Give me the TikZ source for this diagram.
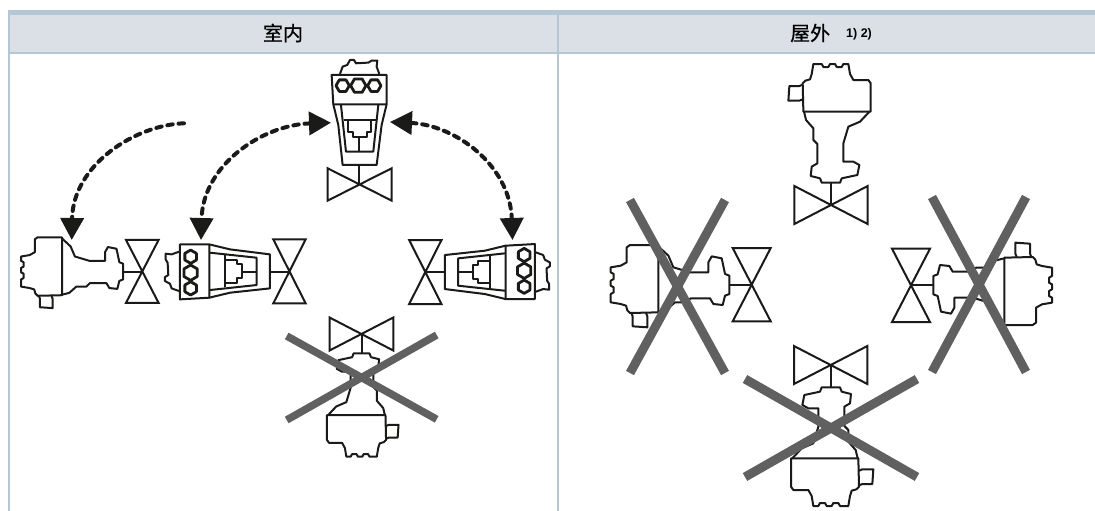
\documentclass[tikz,border=0pt]{standalone}
\usepackage{fontspec}
\setmainfont{Liberation Sans}
\newfontfamily\cjk[FakeBold=0.6]{Noto Sans CJK SC}
\usetikzlibrary{arrows.meta}
\definecolor{headfill}{HTML}{DAE0E5}
\definecolor{rulecol}{HTML}{B5C6D5}
\definecolor{inkcol}{HTML}{1A1A18}
\definecolor{crosscol}{HTML}{606060}
\tikzset{
  ink/.style={draw=inkcol,line width=2pt,line join=round},
  valve/.style={draw=inkcol,line width=2pt,line join=miter},
  crossbar/.style={draw=crosscol,line width=7.5pt},
  crossbarbig/.style={draw=crosscol,line width=9pt},
  swing/.style={draw=inkcol,line width=4pt,line cap=round,dash pattern=on 5.5pt off 5.8pt,
    -{Triangle[width=23pt,length=22pt,fill=inkcol,sep=0pt]}},
  swingboth/.style={swing,{Triangle[width=23pt,length=22pt,fill=inkcol]}-{Triangle[width=23pt,length=22pt,fill=inkcol]}},
  headtext/.style={inner sep=0pt,font=\cjk\fontsize{20}{20}\selectfont,text=black},
  pics/actA/.style={code={
    \begin{scope}[scale=1/3,shift={(-212,-465)}]
      \draw[ink] (155,72) -- (160,42) -- (185,42) -- (190,51) -- (205,51) -- (210,42) -- (225,42) -- (230,51) -- (245,51) -- (250,42) -- (265,42) -- (270,72) -- (280,90) -- (325,90) -- (332,100) -- (332,185) -- (130,185) -- (128,100) -- (136,92) -- (150,88) -- cycle;
      \draw[ink] (128,104) -- (118,108) -- (88,108) -- (85,152) -- (118,152) -- (128,148);
      \draw[ink] (132,185) -- (138,210) -- (160,235) -- (160,270) -- (172,282) -- (172,340) -- (155,350) -- (152,378) -- (180,385) -- (185,398) -- (240,398) -- (245,385) -- (292,375) -- (298,345) -- (280,335) -- (250,335) -- (250,280) -- (265,230) -- (300,215) -- (328,185);
      \draw[ink] (212,398) -- (212,465);
      \draw[valve] (103,408) -- (323,522) -- (323,408) -- (103,522) -- cycle;
    \end{scope}}},
  pics/actB/.style={code={
    \begin{scope}[scale=1/3,shift={(-268,-403)}]
      \draw[ink] (210,72) -- (218,50) -- (232,45) -- (240,30) -- (252,30) -- (258,40) -- (295,38) -- (305,32) -- (322,32) -- (320,50) -- (328,72);
      \draw[ink] (185,75) -- (350,75) -- (350,163) -- (190,163) -- cycle;
      \draw[ink] (190,163) -- (205,225) -- (218,345) -- (320,345) -- (335,225) -- (350,163);
      \draw[ink] (213,165) -- (228,305) -- (310,305) -- (325,165);
      \draw[ink] (222,210) -- (318,210);
      \draw[ink] (235,212) -- (235,245) -- (248,245) -- (248,260) -- (290,260) -- (290,245) -- (303,245) -- (303,212);
      \draw[ink] (268,260) -- (268,305);
      \draw[ink] (268,345) -- (268,403);
      \foreach \cx/\cr in {218/20,265/23,313/20}{
        \draw[ink,line width=2.8pt,shift={(\cx,107)}] (0:\cr) -- (60:\cr) -- (120:\cr) -- (180:\cr) -- (240:\cr) -- (300:\cr) -- cycle;}
      \draw[valve] (173,355) -- (365,452) -- (365,355) -- (173,452) -- cycle;
    \end{scope}}}
}
\begin{document}
\begin{tikzpicture}[x=1pt,y=-1pt]
\useasboundingbox (0,0) rectangle (1095,511);
% table
\fill[headfill] (9,12) rectangle (1095,53);
\fill[rulecol] (8,10) rectangle (1095,14.7);
\fill[rulecol] (8,51.7) rectangle (1095,54);
\fill[rulecol] (8,10) rectangle (10,511);
\fill[rulecol] (557,14) rectangle (559,511);
\node[headtext] (hin) at (283,33) {室内};
\node[headtext,anchor=west] (hout) at (790,33) {屋外};
\node[anchor=base west,inner sep=0pt,font=\bfseries\fontsize{12.5}{12.5}\selectfont] (note) at (846,38) {1) 2)};
% indoor
\pic (it) at (359.3,184.3) {actB};
\pic (il) [rotate=90,scale=.86] at (142.3,271.7) {actA};
\pic (ib) [rotate=90] at (289.3,271.7) {actB};
\pic (ir) [rotate=-90] at (425.5,271.7) {actB};
\pic (id) [rotate=180,scale=.87] at (361.7,334) {actA};
% outdoor
\pic (ot) at (830.7,205) {actA};
\pic (ol) [rotate=90] at (751.7,285) {actA};
\pic (or) [rotate=-90] at (911,285) {actA};
\pic (od) [rotate=180] at (831,365) {actA};
% arrows
\coordinate (a1s) at (184,123.3);
\coordinate (a1e) at (71.7,240);
\coordinate (a2s) at (331,122.7);
\coordinate (a2e) at (201,240);
\coordinate (a3s) at (390,122);
\coordinate (a3e) at (512.5,240);
\draw[swing] (a1s) .. controls (135,125) and (73,165) .. (a1e);
\draw[swingboth] (a2s) .. controls (262,125) and (203,165) .. (a2e);
\draw[swingboth] (a3s) .. controls (455,125) and (510,165) .. (a3e);
% crosses
\draw[crossbar] (286.7,336) -- (436.7,419.3);
\draw[crossbar] (286.7,420) -- (436.7,335);
\draw[crossbarbig] (630,200) -- (725,373);
\draw[crossbarbig] (725,200) -- (630,373);
\draw[crossbarbig] (932,197) -- (1026,372);
\draw[crossbarbig] (1026,197) -- (932,372);
\draw[crossbarbig] (745,477) -- (917,379);
\draw[crossbarbig] (745,379) -- (917,477);
\end{tikzpicture}
\end{document}
